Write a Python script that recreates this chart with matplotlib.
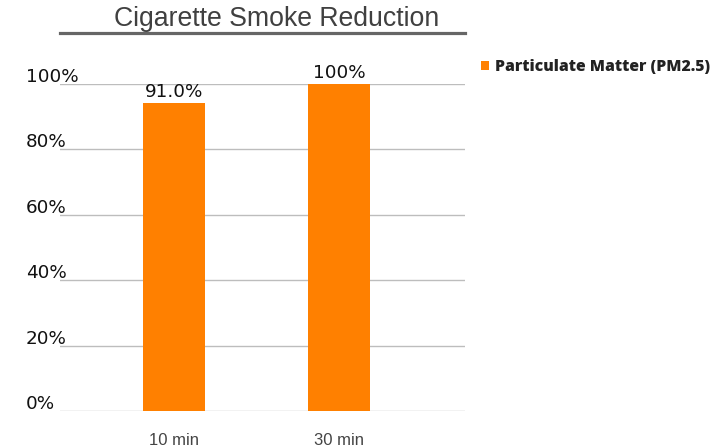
import matplotlib
matplotlib.use("Agg")
import matplotlib.pyplot as plt
from matplotlib.lines import Line2D
from matplotlib.patches import Patch

categories = ["10 min", "30 min"]
values = [94.2, 100.0]
value_labels = ["91.0%", "100%"]
series_name = "Particulate Matter (PM2.5)"
y_ticks = [0, 20, 40, 60, 80, 100]
y_tick_labels = ["0%", "20%", "40%", "60%", "80%", "100%"]
title = "Cigarette Smoke Reduction"

W, H = 716, 448
fig = plt.figure(figsize=(W / 100, H / 100), dpi=100)
ax = fig.add_axes([60 / W, (H - 411) / H, 405 / W, (411 - 84) / H])

bar_color = "#FF8000"
x = list(range(len(categories)))
ax.bar(x, values, width=0.38, color=bar_color, zorder=3, clip_on=False)

ax.set_xlim(-0.691, 1.764)
ax.set_ylim(0, 100)
ax.set_yticks(y_ticks)
ax.set_yticklabels([])
ax.tick_params(axis="y", length=0)
ax.grid(axis="y", color="#bdbdbd", linewidth=1, zorder=0)
for s in ax.spines.values():
    s.set_visible(False)

for v, lab in zip(y_ticks, y_tick_labels):
    ax.annotate(lab, xy=(0, v), xycoords=("axes fraction", "data"),
                xytext=(-34, 2), textcoords="offset pixels",
                ha="left", va="baseline", fontsize=13.2,
                family="DejaVu Sans", color="#111111")

ax.set_xticks(x)
ax.set_xticklabels(categories, family="Liberation Sans", fontsize=12, color="#444444")
ax.tick_params(axis="x", length=0, pad=16)

for xi, v, lab in zip(x, values, value_labels):
    ax.annotate(lab, xy=(xi, v), xycoords="data", xytext=(0, 6),
                textcoords="offset pixels", ha="center", va="baseline",
                fontsize=13.2, family="DejaVu Sans", color="#111111")

fig.text(277 / W, 1 - 19 / H, title, ha="center", va="center",
         fontsize=19.2, family="Liberation Sans", color="#404040")
fig.add_artist(Line2D([60 / W, 465 / W], [1 - 33 / H, 1 - 33 / H],
                      transform=fig.transFigure, color="#666666", linewidth=2.3))

handles = [Patch(facecolor=bar_color, edgecolor="none", label=series_name)]
fig.legend(handles=handles, loc="center left",
           bbox_to_anchor=(481 / W, 1 - 67 / H), frameon=False,
           handlelength=0.5, handleheight=0.5, handletextpad=0.4,
           prop={"family": "Open Sans", "weight": "heavy", "size": 11.3},
           labelcolor="#222222", borderaxespad=0, borderpad=0)

fig.savefig("out.png", dpi=100)
